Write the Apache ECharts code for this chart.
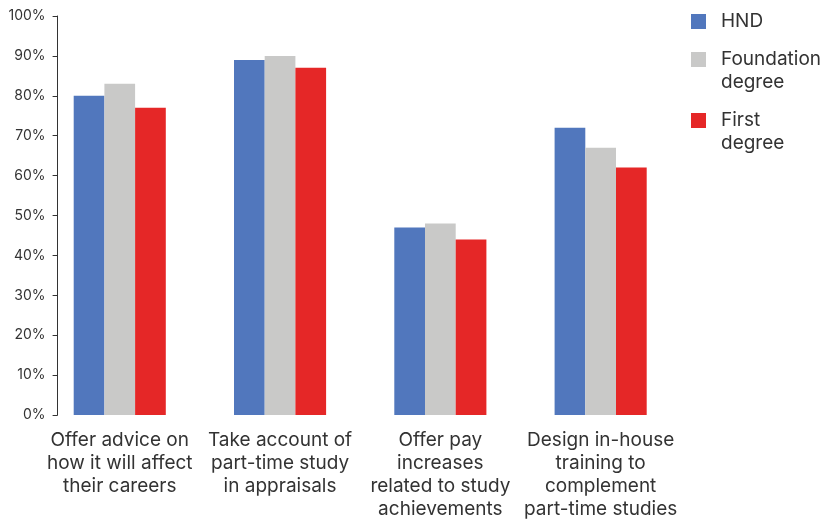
<!DOCTYPE html>
<html>
<head>
<meta charset="utf-8">
<script src="https://cdn.jsdelivr.net/npm/echarts@6/dist/echarts.min.js"></script>
<style>
  html, body { margin: 0; padding: 0; background: #ffffff; }
  #chart { width: 836px; height: 521px; }
</style>
</head>
<body>
<div id="chart"></div>
<script>
// Employer support for part-time study, by qualification
const categories = [
  'Offer advice on\nhow it will affect\ntheir careers',
  'Take account of\npart-time study\nin appraisals',
  'Offer pay\nincreases\nrelated to study\nachievements',
  'Design in-house\ntraining to\ncomplement\npart-time studies'
];
const seriesNames = ['HND', 'Foundation degree', 'First degree'];
const legendLabels = ['HND', 'Foundation\ndegree', 'First\ndegree'];
const hnd = [80, 89, 47, 72];
const foundation = [83, 90, 48, 67];
const firstDegree = [77, 87, 44, 62];
const yTicks = [0, 10, 20, 30, 40, 50, 60, 70, 80, 90, 100];

const colors = ['#5177bd', '#c9c9c8', '#e52727'];
const textColor = '#333333';
const fontFamily = 'Inter, "Liberation Sans", sans-serif';

const chart = echarts.init(document.getElementById('chart'), null, { renderer: 'canvas' });

// One legend block per series so each swatch lines up with the first line of its label.
function legendBlock(name, label, top) {
  const multiline = label.indexOf('\n') >= 0;
  return {
    show: true,
    left: 691,
    top: top,
    padding: 0,
    orient: 'vertical',
    icon: 'rect',
    itemWidth: 15,
    itemHeight: 15,
    itemGap: 0,
    selectedMode: false,
    // a leading blank line keeps the swatch centred on the first text line
    formatter: () => (multiline ? '\n' + label : label),
    textStyle: {
      color: textColor,
      fontFamily: fontFamily,
      fontSize: 19,
      lineHeight: 23,
      padding: [0, 0, 0, 10]
    },
    data: [name]
  };
}

const seriesData = [hnd, foundation, firstDegree];

chart.setOption({
  animation: false,
  color: colors,
  legend: [
    legendBlock(seriesNames[0], legendLabels[0], 10),
    legendBlock(seriesNames[1], legendLabels[1], 25),
    legendBlock(seriesNames[2], legendLabels[2], 86)
  ],
  grid: {
    left: 39.6,
    width: 641.2,
    top: 16,
    height: 399,
    containLabel: false
  },
  xAxis: {
    type: 'category',
    data: categories,
    axisLine: { show: false },
    axisTick: { show: false },
    axisLabel: {
      color: textColor,
      fontFamily: fontFamily,
      fontSize: 19,
      lineHeight: 23,
      margin: 14,
      interval: 0,
      align: 'center'
    }
  },
  yAxis: {
    type: 'value',
    min: yTicks[0],
    max: yTicks[yTicks.length - 1],
    interval: 10,
    offset: -18,
    axisLine: { show: true, lineStyle: { color: '#333333', width: 1 } },
    axisTick: { show: true, length: 5, lineStyle: { color: '#333333' } },
    splitLine: { show: false },
    axisLabel: {
      color: textColor,
      fontFamily: fontFamily,
      fontSize: 14,
      margin: 12,
      formatter: v => v + '%'
    }
  },
  series: seriesNames.map((name, i) => ({
    name: name,
    type: 'bar',
    data: seriesData[i],
    barWidth: 30.7,
    barGap: '0%',
    itemStyle: { color: colors[i] }
  }))
});
</script>
</body>
</html>
